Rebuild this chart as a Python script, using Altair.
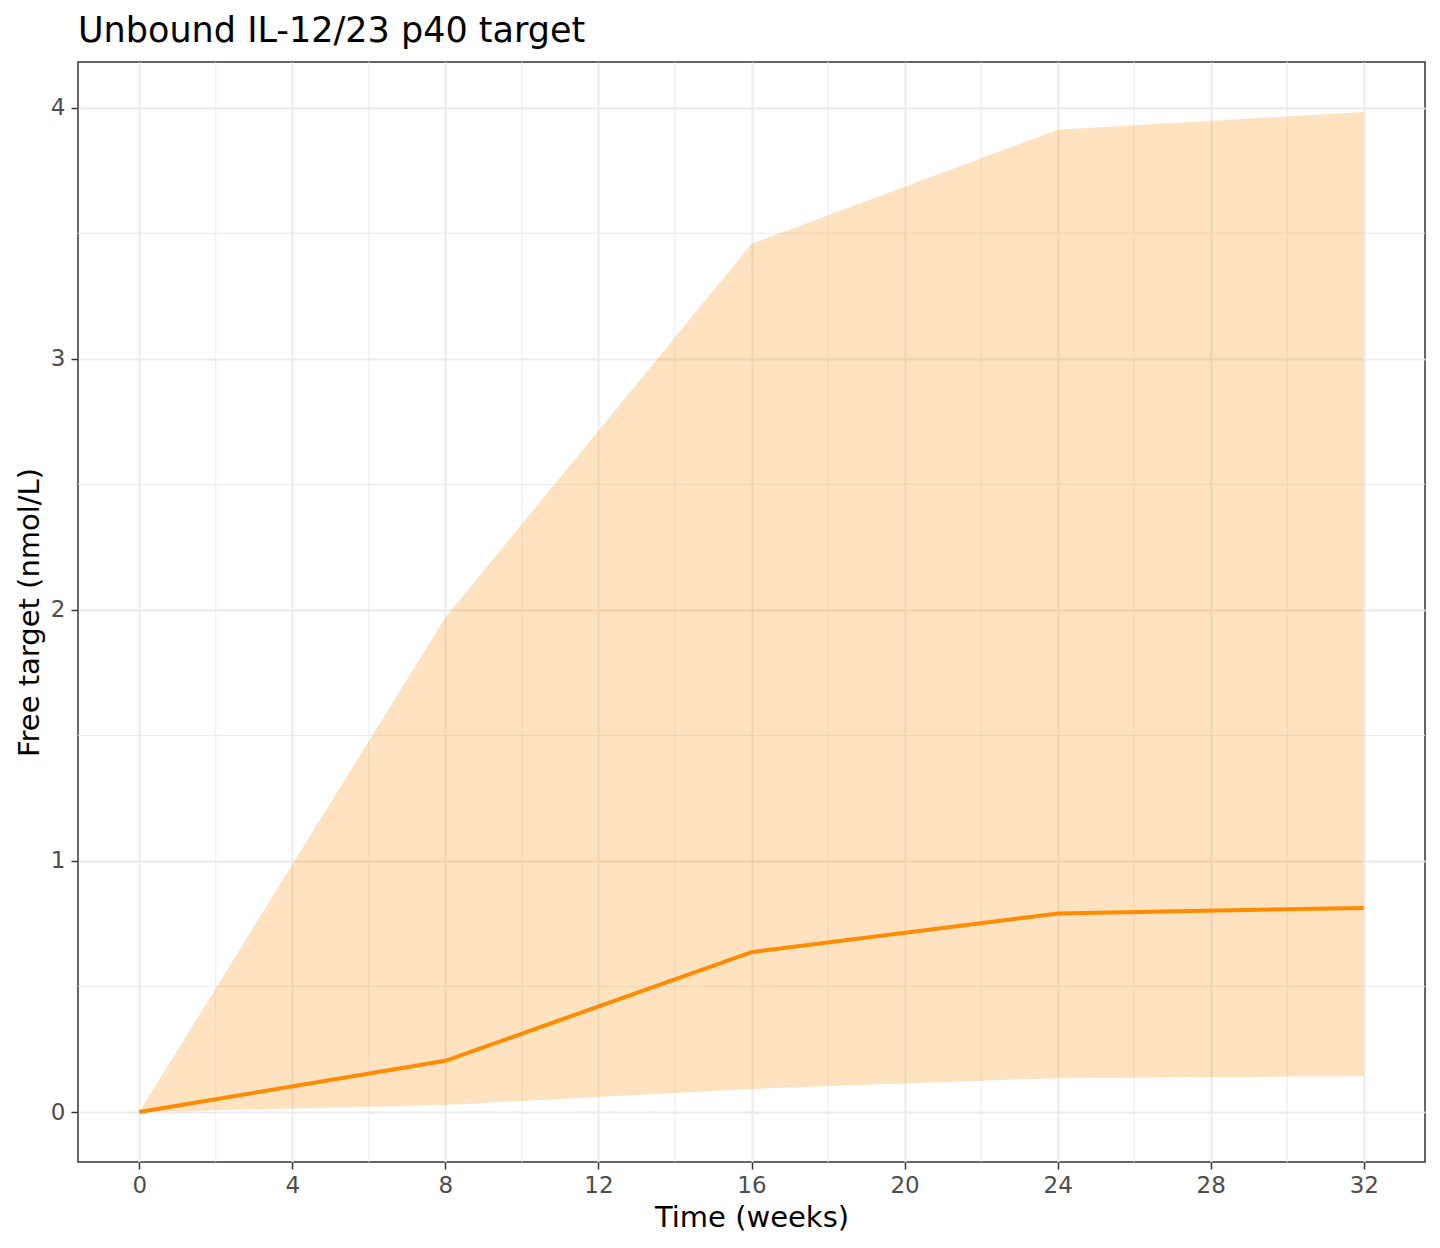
import altair as alt
import pandas as pd

# Data
weeks = [0, 8, 16, 24, 32]
median = [0.0, 0.204, 0.637, 0.791, 0.813]
lower = [0.0, 0.028, 0.092, 0.135, 0.143]
upper = [0.0, 1.97, 3.457, 3.912, 3.983]

x_ticks = [0, 4, 8, 12, 16, 20, 24, 28, 32]
y_ticks = [0, 1, 2, 3, 4]
x_minor = [2, 6, 10, 14, 18, 22, 26, 30]
y_minor = [0.5, 1.5, 2.5, 3.5]

title_text = "Unbound IL-12/23 p40 target"
x_title = "Time (weeks)"
y_title = "Free target (nmol/L)"

df = pd.DataFrame({"week": weeks, "median": median, "lower": lower, "upper": upper})
dfx = pd.DataFrame({"v": x_minor})
dfy = pd.DataFrame({"v": y_minor})

FONT = "DejaVu Sans"
xscale = alt.Scale(domain=[-1.6, 33.6], nice=False, zero=False)
yscale = alt.Scale(domain=[-0.199, 4.182], nice=False, zero=False)

xaxis = alt.Axis(values=x_ticks, format="d", title=x_title, grid=True)
yaxis = alt.Axis(values=y_ticks, format="d", title=y_title, grid=True)

minor_x = alt.Chart(dfx).mark_rule(color="#EBEBEB", strokeWidth=1).encode(
    x=alt.X("v:Q", scale=xscale, axis=xaxis)
)
minor_y = alt.Chart(dfy).mark_rule(color="#EBEBEB", strokeWidth=1).encode(
    y=alt.Y("v:Q", scale=yscale, axis=yaxis)
)

band = alt.Chart(df).mark_area(color="#FF8C00", opacity=0.25).encode(
    x=alt.X("week:Q", scale=xscale, axis=xaxis),
    y=alt.Y("lower:Q", scale=yscale, axis=yaxis),
    y2="upper:Q",
)

line = alt.Chart(df).mark_line(color="#FF8C00", strokeWidth=4).encode(
    x=alt.X("week:Q", scale=xscale, axis=xaxis),
    y=alt.Y("median:Q", scale=yscale, axis=yaxis),
)

chart = (
    alt.layer(minor_x, minor_y, band, line)
    .properties(
        width=1347,
        height=1100,
        autosize=alt.AutoSizeParams(type="none"),
        padding={"left": 70, "top": 54, "right": 7, "bottom": 70},
        title=alt.TitleParams(
            text=title_text,
            anchor="start",
            frame="group",
            font=FONT,
            fontSize=35,
            fontWeight="normal",
            color="black",
            baseline="alphabetic",
            offset=-15,
        ),
    )
    .configure_view(stroke="#333333", strokeWidth=1.5)
    .configure_axis(
        labelFont=FONT,
        labelFontSize=23,
        labelColor="#4D4D4D",
        titleFont=FONT,
        titleFontSize=29,
        titleFontWeight="normal",
        titleColor="black",
        gridColor="#EBEBEB",
        gridWidth=2,
        domain=False,
        tickColor="#333333",
        tickWidth=1.5,
        tickSize=7,
    )
    .configure_axisX(labelPadding=5, titlePadding=6)
    .configure_axisY(labelPadding=6, titlePadding=6)
)

chart.save("out.html", embed_options={"renderer": "svg", "actions": False})
